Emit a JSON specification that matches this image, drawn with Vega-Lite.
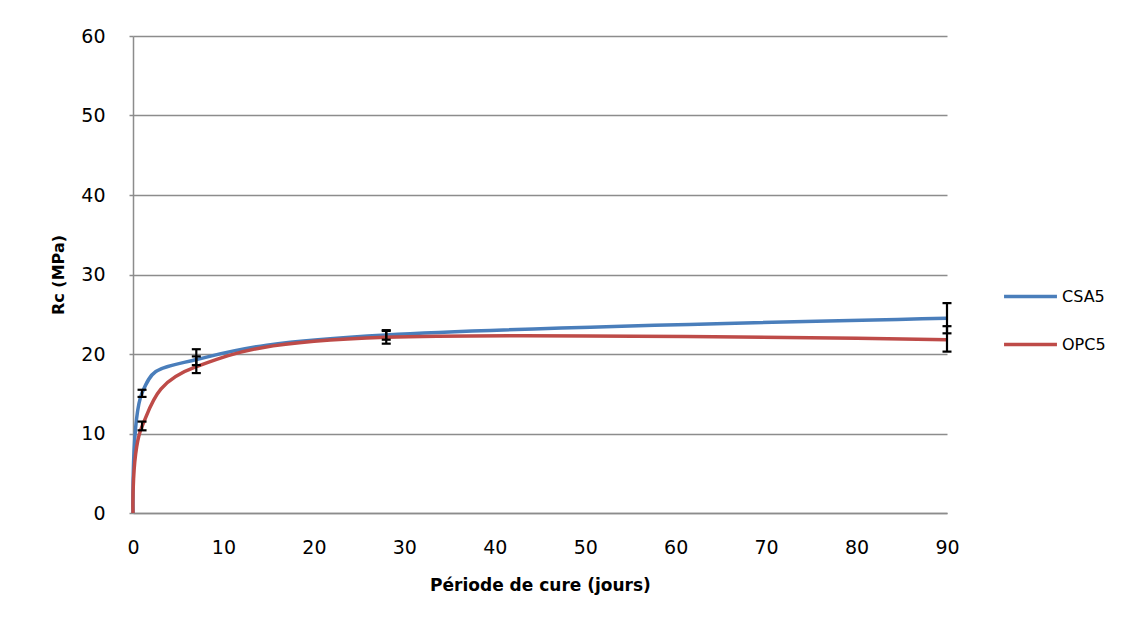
{
  "$schema": "https://vega.github.io/schema/vega-lite/v6.json",
  "width": 814,
  "height": 477,
  "autosize": {"type": "none"},
  "padding": {"left": 133, "top": 36, "right": 190, "bottom": 120},
  "background": "white",
  "config": {
    "font": "DejaVu Sans",
    "view": {"stroke": null},
    "axis": {"labelFont": "DejaVu Sans", "titleFont": "DejaVu Sans", "labelColor": "#000000", "titleColor": "#000000"}
  },
  "data": {
    "values": [
      {"series": "CSA5", "day": 0, "rc": 0, "lo": null, "hi": null},
      {"series": "CSA5", "day": 1, "rc": 15.1, "lo": 14.6, "hi": 15.5},
      {"series": "CSA5", "day": 7, "rc": 19.3, "lo": 18.6, "hi": 20.6},
      {"series": "CSA5", "day": 28, "rc": 22.4, "lo": 21.8, "hi": 23.0},
      {"series": "CSA5", "day": 90, "rc": 24.5, "lo": 22.6, "hi": 26.4},
      {"series": "OPC5", "day": 0, "rc": 0, "lo": null, "hi": null},
      {"series": "OPC5", "day": 1, "rc": 10.9, "lo": 10.4, "hi": 11.5},
      {"series": "OPC5", "day": 7, "rc": 18.4, "lo": 17.6, "hi": 19.7},
      {"series": "OPC5", "day": 28, "rc": 22.1, "lo": 21.3, "hi": 22.9},
      {"series": "OPC5", "day": 90, "rc": 21.8, "lo": 20.3, "hi": 23.5}
    ]
  },
  "layer": [
    {
      "mark": {"type": "line", "interpolate": "cardinal", "tension": 0, "strokeWidth": 3.5},
      "encoding": {
        "x": {
          "field": "day", "type": "quantitative",
          "scale": {"domain": [0, 90], "nice": false, "zero": true},
          "axis": {
            "title": "Période de cure (jours)",
            "values": [0, 10, 20, 30, 40, 50, 60, 70, 80, 90],
            "grid": false,
            "domainColor": "#8c8c8c", "domainWidth": 1.5,
            "ticks": false,
            "labelFontSize": 19, "labelPadding": 25, "labelFlush": false,
            "titleFontSize": 17, "titleFontWeight": "bold", "titlePadding": 20
          }
        },
        "y": {
          "field": "rc", "type": "quantitative",
          "scale": {"domain": [0, 60], "nice": false},
          "axis": {
            "title": "Rc (MPa)",
            "values": [0, 10, 20, 30, 40, 50, 60],
            "grid": true, "gridColor": "#8c8c8c", "gridWidth": 1.5,
            "domainColor": "#8c8c8c", "domainWidth": 1.5,
            "tickColor": "#8c8c8c", "tickSize": 4, "tickWidth": 1.5,
            "labelFontSize": 19, "labelPadding": 24,
            "titleFontSize": 16, "titleFontWeight": "bold", "titlePadding": 14
          }
        },
        "color": {
          "field": "series", "type": "nominal",
          "scale": {"domain": ["CSA5", "OPC5"], "range": ["#4a7ebb", "#be4b48"]},
          "legend": {
            "title": null,
            "orient": "none",
            "legendX": 869,
            "legendY": 232,
            "symbolType": "stroke",
            "symbolStrokeWidth": 3.5,
            "symbolSize": 2800,
            "labelFontSize": 16,
            "labelFont": "DejaVu Sans",
            "labelColor": "#000000",
            "labelOffset": 3,
            "rowPadding": 11
          }
        }
      }
    },
    {
      "transform": [{"filter": "isValid(datum.lo)"}],
      "mark": {"type": "rule", "color": "#000000", "strokeWidth": 2.2},
      "encoding": {
        "x": {"field": "day", "type": "quantitative"},
        "y": {"field": "lo", "type": "quantitative"},
        "y2": {"field": "hi"}
      }
    },
    {
      "transform": [{"filter": "isValid(datum.lo)"}],
      "mark": {"type": "tick", "orient": "horizontal", "color": "#000000", "thickness": 2.2, "size": 9, "opacity": 1},
      "encoding": {
        "x": {"field": "day", "type": "quantitative"},
        "y": {"field": "lo", "type": "quantitative"}
      }
    },
    {
      "transform": [{"filter": "isValid(datum.lo)"}],
      "mark": {"type": "tick", "orient": "horizontal", "color": "#000000", "thickness": 2.2, "size": 9, "opacity": 1},
      "encoding": {
        "x": {"field": "day", "type": "quantitative"},
        "y": {"field": "hi", "type": "quantitative"}
      }
    }
  ]
}
